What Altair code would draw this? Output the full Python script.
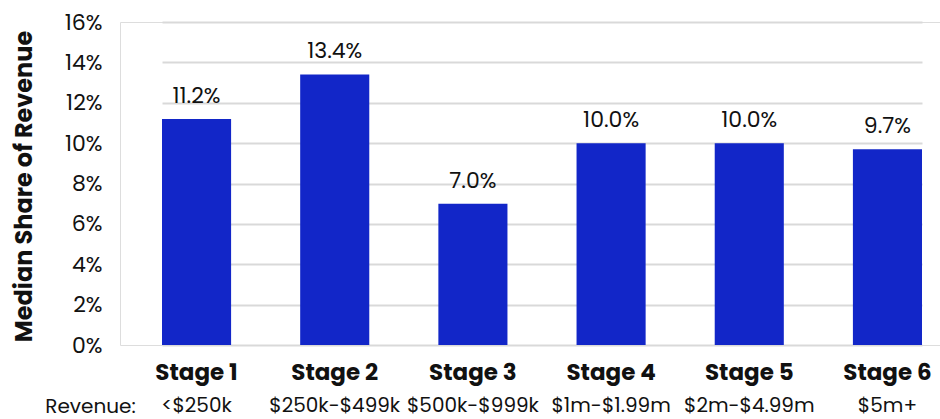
import altair as alt
import pandas as pd

stages = ["Stage 1", "Stage 2", "Stage 3", "Stage 4", "Stage 5", "Stage 6"]
revenue_bands = ["<$250k", "$250k-$499k", "$500k-$999k", "$1m-$1.99m", "$2m-$4.99m", "$5m+"]
median_share = [0.112, 0.134, 0.070, 0.100, 0.100, 0.097]

df = pd.DataFrame({"stage": stages, "band": revenue_bands, "share": median_share})

FONT = "Poppins, Open Sans, sans-serif"
W, H = 820, 323
BLUE = "#1226C8"

x_enc = alt.X(
    "stage:N",
    sort=stages,
    scale=alt.Scale(paddingInner=0.5, paddingOuter=0, range=[42, 802]),
    axis=alt.Axis(
        title="Revenue:",
        titleFont=FONT,
        titleFontSize=20,
        titleFontWeight="normal",
        titleColor="#111111",
        titleX=-30,
        titleY=61,
        titleAlign="center",
        titleBaseline="middle",
        titleAnchor="start",
        labelFont=FONT,
        labelFontSize=23,
        labelFontWeight="bold",
        labelColor="#111111",
        labelAngle=0,
        labelPadding=16,
        ticks=False,
        domain=False,
    ),
)

bars = alt.Chart(df).mark_bar(color=BLUE).encode(
    x=x_enc,
    y=alt.Y(
        "share:Q",
        scale=alt.Scale(domain=[0, 0.16], nice=False),
        axis=alt.Axis(
            title="Median Share of Revenue",
            titleFont=FONT,
            titleFontSize=24,
            titleFontWeight="bold",
            titleColor="#111111",
            titleX=-96,
            titleY=164,
            titleAngle=-90,
            titleAlign="center",
            titleBaseline="middle",
            titleAnchor="start",
            values=[0, 0.02, 0.04, 0.06, 0.08, 0.10, 0.12, 0.14, 0.16],
            format=".0%",
            labelFont=FONT,
            labelFontSize=22,
            labelColor="#111111",
            labelPadding=18,
            ticks=False,
            domain=False,
            gridColor="#D9D9D9",
            gridWidth=2,
        ),
    ),
)

value_labels = alt.Chart(df).mark_text(
    font=FONT, fontSize=22, color="#111111", baseline="alphabetic", dy=-16
).encode(
    x=alt.X("stage:N", sort=stages),
    y=alt.Y("share:Q"),
    text=alt.Text("share:Q", format=".1%"),
)

band_labels = alt.Chart(df).mark_text(
    font=FONT, fontSize=20, color="#111111", baseline="middle"
).encode(
    x=alt.X("stage:N", sort=stages),
    y=alt.value(H + 61),
    text="band:N",
)

chart = (
    alt.layer(bars, value_labels, band_labels)
    .properties(
        width=W,
        height=H,
        autosize=alt.AutoSizeParams(type="none"),
        padding={"left": 120, "top": 22, "right": 0, "bottom": 74},
    )
    .configure_view(stroke=None)
    .configure(background="white")
)

chart.save("out.html", embed_options={"renderer": "svg", "actions": False})
